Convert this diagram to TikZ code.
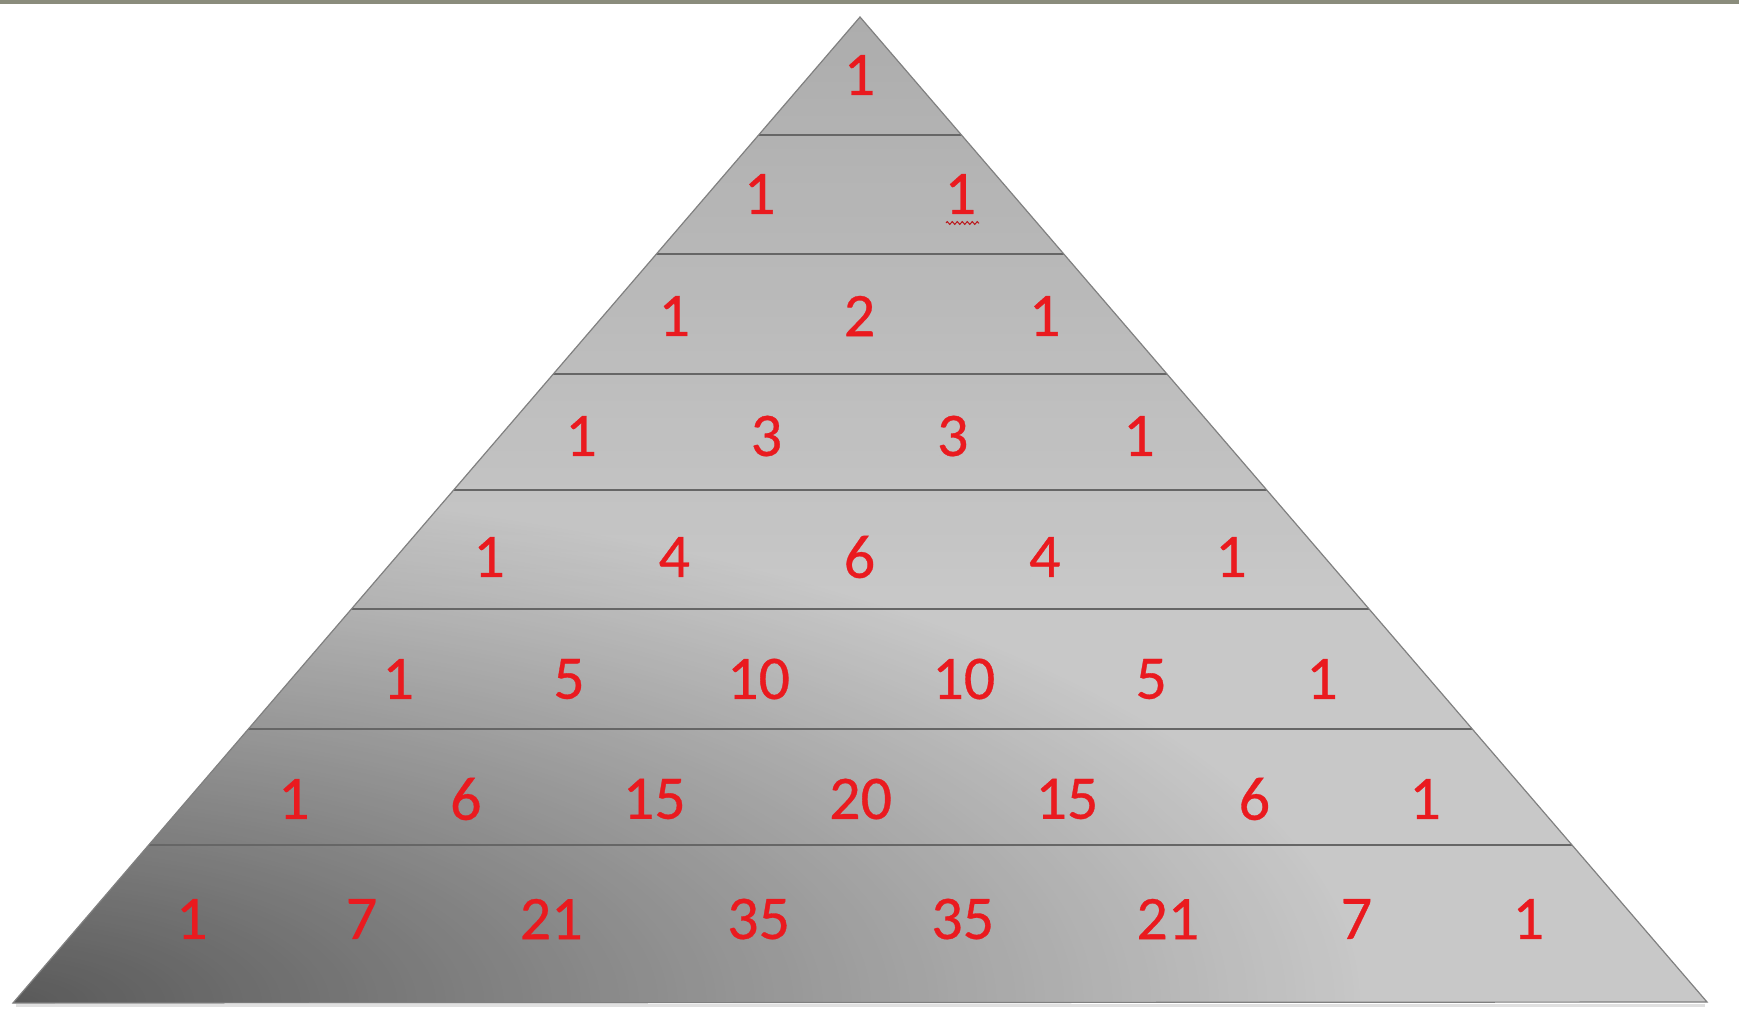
\documentclass[tikz,border=0pt]{standalone}
\usepackage{fontspec}
\setmainfont{Carlito}
\newfontface\numfont{Carlito}[FakeBold=0.5]
\usetikzlibrary{calc,decorations.pathmorphing,fadings}
\definecolor{numred}{HTML}{EA1A1F}
\definecolor{bandcol}{HTML}{8A8C7C}
\definecolor{rulecol}{HTML}{666666}
\definecolor{basegray}{HTML}{C8C8C8}
\tikzfading[name=cornerfade, inner color=transparent!45, outer color=transparent!100]
\tikzfading[name=topfade, top color=transparent!82, bottom color=transparent!100]
\tikzset{
  num/.style={text=numred, font=\numfont\fontsize{31}{31}\selectfont, inner sep=0pt, anchor=center},
  rowline/.style={draw=rulecol, line width=0.9pt},
}
\begin{document}
\begin{tikzpicture}[x=0.5pt,y=-0.5pt]
\useasboundingbox (0,0) rectangle (1739,1025);
\fill[white] (0,0) rectangle (1739,1025);
\fill[bandcol] (0,0) rectangle (1739,4);
\coordinate (A) at (860,17);
\coordinate (BL) at (13,1003);
\coordinate (BR) at (1707,1002);
% shadow under base
\draw[black!12, line width=1.2pt] (16,1005.5) -- (1705,1005.5);
\begin{scope}
  \clip (A) -- (BL) -- (BR) -- cycle;
  \fill[basegray] (0,0) rectangle (1739,1025);
  \fill[black, path fading=cornerfade] (BL) ellipse [x radius=1350, y radius=520];
  \fill[black, path fading=topfade] (0,-175) rectangle (1739,592);
  \foreach \yy in {135,254,374,490,609,729,845}
    \draw[rowline] (0,\yy) -- (1739,\yy);
\end{scope}
\draw[black!50, line width=0.6pt] (A) -- (BL) -- (BR) -- cycle;
% row 1
\node[num] (n11) at (859.5,75) {1};
% row 2
\node[num] (n21) at (759.7,194) {1};
\node[num] (n22) at (960.4,194) {1};
% row 3
\node[num] (n31) at (674.3,316) {1};
\node[num] (n32) at (859.5,316) {2};
\node[num] (n33) at (1044.7,316) {1};
% row 4
\node[num] (n41) at (581.1,436) {1};
\node[num] (n42) at (766.4,436) {3};
\node[num] (n43) at (952.7,436) {3};
\node[num] (n44) at (1139,436) {1};
% row 5
\node[num] (n51) at (489.1,557) {1};
\node[num] (n52) at (674.3,557) {4};
\node[num] (n53) at (859.5,557) {6};
\node[num] (n54) at (1044.7,557) {4};
\node[num] (n55) at (1231,557) {1};
% row 6
\node[num] (n61) at (398.2,679) {1};
\node[num] (n62) at (569,679) {5};
\node[num] (n63) at (758.6,679) {10};
\node[num] (n64) at (963.8,679) {10};
\node[num] (n65) at (1151.2,679) {5};
\node[num] (n66) at (1322,679) {1};
% row 7
\node[num] (n71) at (293.9,799) {1};
\node[num] (n72) at (465.8,799) {6};
\node[num] (n73) at (654.3,799) {15};
\node[num] (n74) at (860.6,799) {20};
\node[num] (n75) at (1066.9,799) {15};
\node[num] (n76) at (1254.4,799) {6};
\node[num] (n77) at (1425.1,799) {1};
% row 8
\node[num] (n81) at (191.9,919) {1};
\node[num] (n82) at (361.6,919) {7};
\node[num] (n83) at (551.2,919) {21};
\node[num] (n84) at (758.6,919) {35};
\node[num] (n85) at (962.7,919) {35};
\node[num] (n86) at (1167.8,919) {21};
\node[num] (n87) at (1356.4,919) {7};
\node[num] (n88) at (1528.3,919) {1};
% spell-check wavy underline
\draw[numred!80!black, line width=0.5pt, decorate,
      decoration={zigzag, segment length=2.5pt, amplitude=0.7pt}]
  (946,223) -- (979,223);
\end{tikzpicture}
\end{document}
